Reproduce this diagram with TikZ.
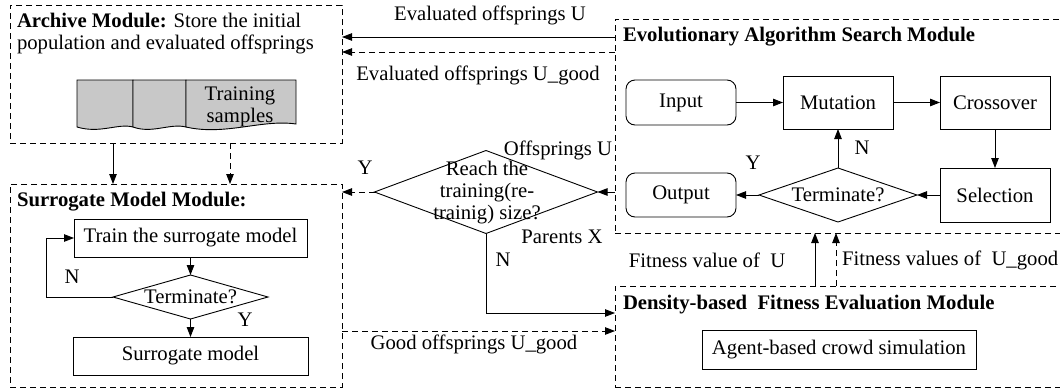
\documentclass[tikz,border=0pt]{standalone}
\usepackage{fontspec}
\setmainfont{Liberation Serif}
\usetikzlibrary{arrows.meta,shapes.geometric,calc}
\definecolor{docgray}{RGB}{200,200,200}
\begin{document}
\begin{tikzpicture}[x=1pt,y=-1pt,
  font=\fontsize{20.7}{22}\selectfont,
  every node/.style={inner sep=0pt, outer sep=0pt},
  module/.style={draw, rectangle, line width=0.9pt, dash pattern=on 6pt off 4pt},
  stepbox/.style={draw, rectangle, line width=0.9pt},
  roundbox/.style={draw, rectangle, line width=0.9pt, rounded corners=9pt},
  decision/.style={draw, diamond, line width=0.9pt},
  arr/.style={line width=0.9pt, -{Triangle[length=10pt,width=7.5pt]}},
  darr/.style={arr, dash pattern=on 6pt off 4pt},
  title/.style={anchor=west, font=\fontsize{20.7}{22}\selectfont\bfseries}
]
\useasboundingbox (0,0) rectangle (1060,391);
\clip (0,0) rectangle (1060,391);

% ---------- module frames ----------
\node[module, minimum width=332pt, minimum height=138pt] (arch) at (176,74) {};
\node[module, minimum width=332pt, minimum height=203pt] (sur) at (176,285.5) {};
\node[module, minimum width=460pt, minimum height=214pt] (ea) at (845,126) {};
\node[module, minimum width=460pt, minimum height=101pt] (dens) at (845,336.5) {};

% ---------- archive module ----------
\node[anchor=west, align=left] (archtxt) at (17,34)
  {\textbf{Archive Module:} Store the initial\\population and evaluated offsprings};
\begin{scope}[line width=0.9pt, fill=docgray]
  \filldraw (77,80) -- (133,80) -- (133,127)
    .. controls (118,123) and (100,134) .. (77,127) -- cycle;
  \filldraw (133,80) -- (186,80) -- (186,127)
    .. controls (170,123) and (152,134) .. (133,127) -- cycle;
  \filldraw (186,80) -- (296,80) -- (296,124)
    .. controls (262,119) and (225,136) .. (186,127) -- cycle;
\end{scope}
\node[align=center] (samples) at (240,107) {Training\\samples};

% ---------- surrogate model module ----------
\node[title] (surtxt) at (17,202) {Surrogate Model Module:};
\node[stepbox, minimum width=233pt, minimum height=38pt] (train) at (190.5,238) {Train the surrogate model};
\node[decision, minimum width=155pt, minimum height=44pt,
      label={center:Terminate?}] (term1) at (190.5,297) {};
\node[stepbox, minimum width=235pt, minimum height=38pt] (surmodel) at (190.5,356) {Surrogate model};
\coordinate (loopx) at (46,0);
\draw[arr] (train.south) -- (term1.north);
\draw[arr] (term1.south) -- (surmodel.north);
\draw[arr] (term1.west) -- (loopx |- term1.west) |- (train.west);
\node (n1) at (72,277) {N};
\node (y1) at (245,320) {Y};

% ---------- evolutionary algorithm module ----------
\node[title] (eatxt) at (623,37) {Evolutionary Algorithm Search Module};
\node[roundbox, minimum width=110pt, minimum height=45pt] (input) at (681,102.5) {Input};
\node[stepbox, minimum width=110pt, minimum height=53pt] (mut) at (838,102.5) {Mutation};
\node[stepbox, minimum width=110pt, minimum height=53pt] (cross) at (995,102.5) {Crossover};
\node[stepbox, minimum width=110pt, minimum height=54pt] (sel) at (995,195) {Selection};
\node[decision, minimum width=158pt, minimum height=54pt,
      label={center:Terminate?}] (term2) at (838,195) {};
\node[roundbox, minimum width=110pt, minimum height=44pt] (output) at (681,195) {Output};
\draw[arr] (input) -- (mut);
\draw[arr] (mut) -- (cross);
\draw[arr] (cross) -- (sel);
\draw[arr] (sel) -- (term2.east);
\draw[arr] (term2.west) -- (output);
\draw[arr] (term2.north) -- (mut.south);
\node (n2) at (862,148) {N};
\node (y2) at (753,163) {Y};

% ---------- fitness evaluation module ----------
\node[title] (denstxt) at (623,305) {Density-based~ Fitness Evaluation Module};
\node[stepbox, minimum width=274pt, minimum height=39pt] (agent) at (839,349.5) {Agent-based crowd simulation};

% ---------- training size decision ----------
\node[decision, minimum width=223pt, minimum height=83pt] (reach) at (486,192) {};
\node[align=center] (reachtxt) at (487,193) {Reach the\\training(re-\\trainig) size?};

% ---------- exchanges between modules ----------
\coordinate (yU) at (0,37);
\coordinate (yUg) at (0,52);
\coordinate (yN) at (0,313);
\coordinate (yG) at (0,331);
\coordinate (xA) at (113,0);
\coordinate (xB) at (230,0);
\coordinate (xF) at (815,0);
\coordinate (xG) at (836,0);

\draw[arr] (ea.west |- yU) -- (arch.east |- yU);
\draw[darr] (ea.west |- yUg) -- (arch.east |- yUg);
\node (evU) at (490,15) {Evaluated offsprings U};
\node (evUg) at (478,75) {Evaluated offsprings U\_good};

\draw[arr] (arch.south -| xA) -- (sur.north -| xA);
\draw[darr] (arch.south -| xB) -- (sur.north -| xB);

\draw[arr] (ea.west |- reach.east) -- (reach.east);
\draw[darr] (reach.west) -- (sur.east |- reach.west);
\draw[arr] (reach.south) -- (reach.south |- yN) -- (dens.west |- yN);
\draw[darr] (sur.east |- yG) -- (dens.west |- yG);
\node (offU) at (558,150) {Offsprings U};
\node (yR) at (365,168) {Y};
\node (parX) at (562,237) {Parents X};
\node (nR) at (503,260) {N};
\node (goodU) at (474,344) {Good offsprings U\_good};

\draw[arr] (dens.north -| xF) -- (ea.south -| xF);
\draw[darr] (dens.north -| xG) -- (ea.south -| xG);
\node (fitU) at (707,260) {Fitness value of~ U};
\node[anchor=west] (fitUg) at (842,260) {Fitness values of~ U\_good};
\end{tikzpicture}
\end{document}
